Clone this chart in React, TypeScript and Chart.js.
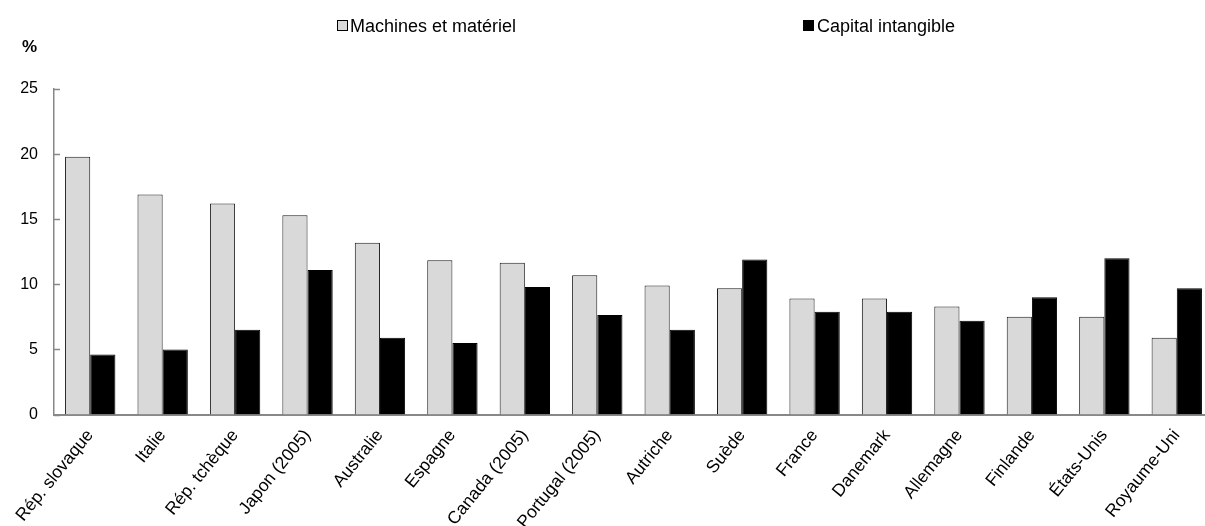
import React, { useEffect, useRef } from "react";
import { Chart, registerables } from "chart.js";

Chart.register(...registerables);

const categories = [
  "Rép. slovaque",
  "Italie",
  "Rép. tchèque",
  "Japon (2005)",
  "Australie",
  "Espagne",
  "Canada (2005)",
  "Portugal (2005)",
  "Autriche",
  "Suède",
  "France",
  "Danemark",
  "Allemagne",
  "Finlande",
  "États-Unis",
  "Royaume-Uni",
];

const machinesValues = [19.8, 16.9, 16.2, 15.3, 13.2, 11.85, 11.65, 10.7, 9.9, 9.7, 8.9, 8.9, 8.3, 7.5, 7.5, 5.9];
const intangibleValues = [4.6, 5.0, 6.5, 11.1, 5.9, 5.5, 9.8, 7.65, 6.5, 11.9, 7.9, 7.9, 7.2, 9.0, 12.0, 9.7];

const seriesLabels = ["Machines et matériel", "Capital intangible"];
const yTicks = [0, 5, 10, 15, 20, 25];

const FONT = "'Liberation Sans', Arial, sans-serif";
const GRAY = "#d9d9d9";
const AXIS = "#888888";

// Short tick marks pointing into the plot area on the value axis
const innerTicks = {
  id: "innerTicks",
  afterDraw(chart: any) {
    const y = chart.scales.y;
    const ctx = chart.ctx;
    const left = chart.chartArea.left;
    ctx.save();
    ctx.strokeStyle = AXIS;
    ctx.lineWidth = 1.5;
    yTicks.forEach((v) => {
      const py = Math.round(y.getPixelForValue(v)) + 0.5;
      ctx.beginPath();
      ctx.moveTo(left, py);
      ctx.lineTo(left + 6, py);
      ctx.stroke();
    });
    ctx.restore();
  },
};

export default function App() {
  const canvasRef = useRef<HTMLCanvasElement | null>(null);

  useEffect(() => {
    if (!canvasRef.current) return;
    const chart = new Chart(canvasRef.current, {
      type: "bar",
      data: {
        labels: categories,
        datasets: [
          {
            label: seriesLabels[0],
            data: machinesValues,
            backgroundColor: GRAY,
            borderColor: "#1a1a1a",
            borderWidth: 1,
          },
          {
            label: seriesLabels[1],
            data: intangibleValues,
            backgroundColor: "#000000",
            borderColor: "#000000",
            borderWidth: 1,
          },
        ],
      },
      plugins: [innerTicks],
      options: {
        responsive: false,
        animation: false,
        events: [],
        layout: { padding: { top: 89, left: 0, right: 0, bottom: 0 } },
        datasets: {
          bar: { categoryPercentage: 0.695, barPercentage: 1 },
        },
        plugins: {
          legend: { display: false },
          tooltip: { enabled: false },
          title: { display: false },
        },
        scales: {
          x: {
            grid: { display: false, drawTicks: false },
            border: { display: true, color: AXIS, width: 2 },
            ticks: {
              autoSkip: false,
              minRotation: 51,
              maxRotation: 51,
              padding: 11,
              color: "#000",
              font: { family: FONT, size: 17.5 },
            },
            afterFit(scale: any) {
              scale.height = 111.5;
              scale.paddingLeft = 0;
              scale.paddingRight = 0;
            },
          },
          y: {
            min: 0,
            max: 25,
            grid: { display: false, drawTicks: false },
            border: { display: true, color: AXIS, width: 1.5 },
            afterBuildTicks(scale: any) {
              scale.ticks = yTicks.map((v) => ({ value: v }));
            },
            ticks: {
              padding: 16,
              color: "#000",
              font: { family: FONT, size: 16 },
            },
            afterFit(scale: any) {
              scale.width = 54;
            },
          },
        },
      },
    });
    return () => chart.destroy();
  }, []);

  const legendText: React.CSSProperties = {
    position: "absolute",
    fontFamily: FONT,
    fontSize: 18,
    lineHeight: "18px",
    color: "#000",
    whiteSpace: "nowrap",
    top: 17,
  };
  const box: React.CSSProperties = {
    position: "absolute",
    top: 20,
    width: 9,
    height: 9,
    border: "1px solid #000",
  };

  return (
    <div
      style={{
        position: "fixed",
        left: 0,
        top: 0,
        width: 1205,
        height: 526,
        overflow: "hidden",
        background: "#fff",
      }}
    >
      <canvas
        ref={canvasRef}
        width={1213}
        height={526}
        style={{ position: "absolute", left: 0, top: 0, width: 1213, height: 526 }}
      />
      <div style={{ ...box, left: 337, background: GRAY }} />
      <span style={{ ...legendText, left: 350 }}>{seriesLabels[0]}</span>
      <div style={{ ...box, left: 803, background: "#000" }} />
      <span style={{ ...legendText, left: 817 }}>{seriesLabels[1]}</span>
      <span
        style={{
          position: "absolute",
          left: 22,
          top: 38,
          fontFamily: FONT,
          fontSize: 17,
          fontWeight: "bold",
          lineHeight: "17px",
          color: "#000",
        }}
      >
        %
      </span>
    </div>
  );
}
